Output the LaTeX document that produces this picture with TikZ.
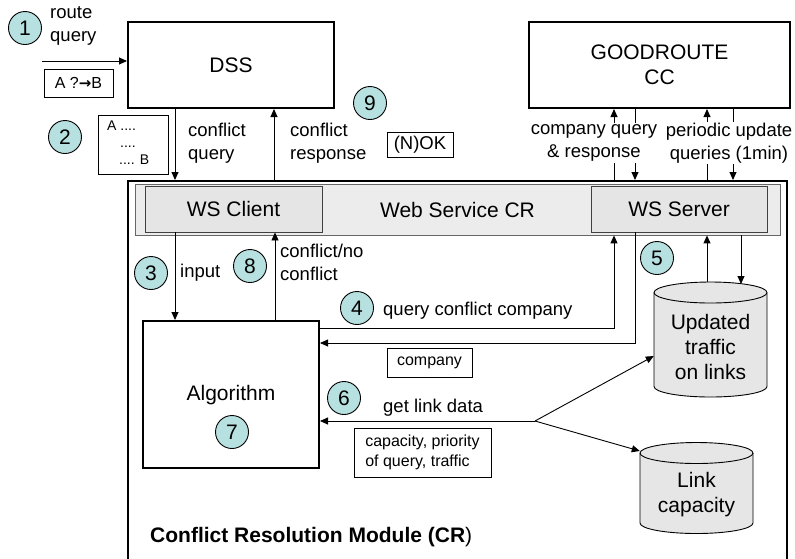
\documentclass[tikz,border=0pt]{standalone}
\usepackage{fontspec}
\setmainfont{Liberation Sans}
\newfontfamily\dejavu{DejaVu Sans}
\usetikzlibrary{arrows.meta,calc}
\definecolor{tealc}{RGB}{183,224,225}
\definecolor{bandc}{RGB}{236,236,236}
\definecolor{wsc}{RGB}{229,229,229}
\definecolor{cylc}{RGB}{230,230,230}
\newcommand{\fbig}{\fontsize{21}{25}\selectfont}
\newcommand{\flab}{\fontsize{18.5}{23}\selectfont}
\newcommand{\fsm}{\fontsize{16}{20}\selectfont}
\newcommand{\ftiny}{\fontsize{14}{17}\selectfont}
\newcommand{\cylshape}[4]{%
  \filldraw[fill=cylc,line width=0.9pt] (#1,#3) -- (#1,#4)
    arc[start angle=180,end angle=360,x radius=56.5pt,y radius=10.5pt]
    -- (#2,#3)
    arc[start angle=0,end angle=180,x radius=56.5pt,y radius=10.5pt] -- cycle;
  \draw[line width=0.9pt] (#1,#3)
    arc[start angle=180,end angle=360,x radius=56.5pt,y radius=10.5pt];}
\begin{document}
\begin{tikzpicture}[x=1pt,y=-1pt,
  bigbox/.style={draw,line width=2pt,inner sep=0,font=\fbig,align=center},
  wsbox/.style={draw=black!75,line width=0.9pt,fill=wsc,inner sep=0,font=\fbig},
  num/.style={circle,draw,line width=0.9pt,fill=tealc,minimum size=33,inner sep=0,font=\fbig},
  lab/.style={font=\flab,align=left,inner sep=0,anchor=west},
  smallbox/.style={draw,line width=0.8pt,font=\fsm,inner sep=0,align=left},
  arr/.style={line width=0.9pt,-{Triangle[length=8pt,width=7pt]}},
  ln/.style={line width=0.9pt}]
\useasboundingbox (0,0) rectangle (795,558);
\clip (0,0) rectangle (795,558);

% main boxes
\node[bigbox,minimum width=206,minimum height=86] (dss) at (231,65) {DSS};
\node[bigbox,minimum width=261,minimum height=86] (good) at (659.5,65) {GOODROUTE\\CC};
\node[draw,line width=2pt,minimum width=659,minimum height=420,inner sep=0] (cr) at (457.5,391) {};
\node[draw=black!60,line width=0.8pt,fill=bandc,minimum width=645,minimum height=51,inner sep=0,font=\fbig] (band) at (457.5,209.5) {Web Service CR};
\node[wsbox,minimum width=177,minimum height=46] (wsc) at (233.5,209) {WS Client};
\node[wsbox,minimum width=176,minimum height=46] (wss) at (679,209) {WS Server};
\node[bigbox,minimum width=176,minimum height=147] (alg) at (231,394.5) {};
\node[font=\fbig,inner sep=0] (algt) at (231,395) {Algorithm};

% cylinders
\cylshape{654}{767}{292.5}{386.5}
\cylshape{640}{753}{453}{523}
\node[minimum width=113,minimum height=115,inner sep=0] (upd) at (710.5,339.5) {};
\node[minimum width=113,minimum height=91,inner sep=0] (lnk) at (696.5,487.5) {};
\node[font=\fbig,align=center,inner sep=0] (updt) at (710.5,347) {Updated\\traffic\\on links};
\node[font=\fbig,align=center,inner sep=0] (lnkt) at (696.5,494.5) {Link\\capacity};

% numbered circles
\node[num] (n1) at (25,28) {1};
\node[num] (n2) at (65,137) {2};
\node[num] (n9) at (370,103) {9};
\node[num] (n3) at (151,273) {3};
\node[num] (n8) at (250,266) {8};
\node[num] (n4) at (357,308) {4};
\node[num] (n5) at (657,258) {5};
\node[num] (n6) at (344,398) {6};
\node[num] (n7) at (232,432) {7};

% labels
\node[lab] (rq) at (50,26) {route\\query};
\node[lab] (cfq) at (188,143.5) {conflict\\query};
\node[lab] (cfr) at (290,143.5) {conflict\\response};
\node[lab] (inp) at (180,273) {input};
\node[lab] (cnc) at (280,262) {conflict/no\\conflict};
\node[lab] (qcc) at (383,311) {query conflict company};
\node[lab] (gld) at (383,408) {get link data};
\node[font=\fbig,inner sep=0,anchor=west] (crm) at (150,537) {\textbf{Conflict Resolution Module (CR})};
\node[font=\flab,align=center,inner sep=1pt] (cq) at (594,143) {company query\\\& response};
\node[font=\flab,align=center,inner sep=1pt] (pq) at (729,143) {periodic update\\queries (1min)};

% small boxes
\node[smallbox,minimum width=69,minimum height=28] (ab) at (78.5,83) {A ?{\dejavu\bfseries\fontsize{15}{18}\selectfont →}B};
\node[draw,line width=0.8pt,minimum width=70,minimum height=59,inner sep=0] (dots) at (133,144.5) {};
\node[font=\ftiny,align=left,anchor=north west,inner sep=0] (dotst) at (107,121) {A ....\\\hspace*{13pt}....\\\hspace*{12pt}.... B};
\node[smallbox,font=\flab,minimum width=66,minimum height=25] (nok) at (420,144.5) {(N)OK};
\node[smallbox,minimum width=85,minimum height=29] (comp) at (429.5,362.5) {company};
\node[smallbox,minimum width=137,minimum height=49] (capb) at (422.5,452.5) {capacity, priority\\of query, traffic};

% connectors
\coordinate (in1) at (42,61);
\draw[arr] (in1) -- (in1 -| dss.west);
\draw[arr] (dss.south -| 175,0) -- (cr.north -| 175,0);
\draw[arr] (cr.north -| 274,0) -- (dss.south -| 274,0);

\draw[ln] (cr.north -| 614,0) -- (cq.south -| 614,0);
\draw[arr] (cq.north -| 614,0) -- (good.south -| 614,0);
\draw[ln] (good.south -| 635,0) -- (cq.north -| 635,0);
\draw[arr] (cq.south -| 635,0) -- (cr.north -| 635,0);
\draw[ln] (cr.north -| 707,0) -- (pq.south -| 707,0);
\draw[arr] (pq.north -| 707,0) -- (good.south -| 707,0);
\draw[ln] (good.south -| 733,0) -- (pq.north -| 733,0);
\draw[arr] (pq.south -| 733,0) -- (cr.north -| 733,0);

\draw[arr] (wsc.south -| 175,0) -- (alg.north -| 175,0);
\draw[arr] (alg.north -| 275,0) -- (wsc.south -| 275,0);

\draw[arr] (alg.east |- 0,328) -| (band.south -| 614,0);
\draw[arr] (wss.south -| 635,0) |- (alg.east |- 0,343);

\coordinate (jn) at (535,421);
\draw[arr] (jn) -- (alg.east |- jn);
\draw[arr] (jn) -- (upd.west |- 0,356);
\draw[arr] (jn) -- (lnk.west |- 0,451);

\coordinate (cylt) at (741,284);
\draw[arr] (band.south -| cylt) -- (cylt);
\draw[arr] (upd.north -| 707,0) -- (band.south -| 707,0);
\end{tikzpicture}
\end{document}
